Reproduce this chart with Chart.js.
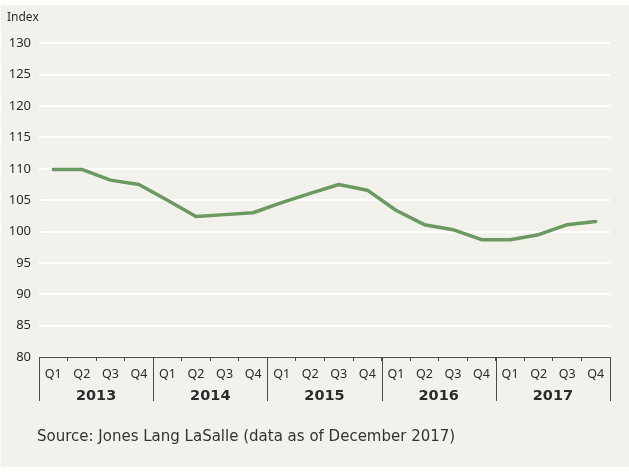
<!DOCTYPE html>
<html>
<head>
<meta charset="utf-8">
<script src="https://cdn.jsdelivr.net/npm/chart.js@4"></script>
<style>
  html, body { margin: 0; padding: 0; background: #ffffff; }
  #wrap { width: 629px; height: 472px; }
</style>
</head>
<body>
<div id="wrap"><canvas id="myChart" width="629" height="472"></canvas></div>
<script>
  // quarterly index values, 2013 Q1 .. 2017 Q4
  const quarters = ["Q1", "Q2", "Q3", "Q4"];
  const years = ["2013", "2014", "2015", "2016", "2017"];
  const indexValues = [
    109.9, 109.9, 108.2, 107.5,
    105.0, 102.4, 102.7, 103.0,
    104.6, 106.1, 107.5, 106.6,
    103.4, 101.1, 100.3, 98.7,
    98.7, 99.5, 101.1, 101.6,
  ];
  const yMin = 80;
  const yMax = 130;
  const yStep = 5;
  const sourceText = "Source: Jones Lang LaSalle (data as of December 2017)";

  const labels = [];
  years.forEach((yr) => quarters.forEach((q) => labels.push(q)));

  const fontFamily = "'Noto Sans', sans-serif";
  const wideFont = "'DejaVu Sans', sans-serif";
  const textColor = "#2b2b2b";

  const yearAxis = {
    id: "yearAxis",
    beforeDraw(chart) {
      const ctx = chart.ctx;
      ctx.save();
      ctx.fillStyle = "#f2f1ec";
      ctx.fillRect(1, 5, 628, 462);
      ctx.restore();
    },
    afterDraw(chart) {
      const ctx = chart.ctx;
      const xs = chart.scales.x;
      const top = chart.chartArea.bottom;
      const n = quarters.length;
      ctx.save();
      ctx.strokeStyle = "#4a4a4a";
      ctx.lineWidth = 1;
      // separators at the year boundaries
      const bounds = [xs.left];
      for (let i = 1; i < years.length; i++) {
        const a = xs.getPixelForValue(i * n - 1);
        const b = xs.getPixelForValue(i * n);
        bounds.push((a + b) / 2);
      }
      bounds.push(xs.right);
      bounds.forEach((bx) => {
        const px = Math.round(bx) + 0.5;
        ctx.beginPath();
        ctx.moveTo(px, top);
        ctx.lineTo(px, top + 44);
        ctx.stroke();
      });
      // year labels
      ctx.fillStyle = textColor;
      ctx.font = "bold 14.5px " + wideFont;
      ctx.textAlign = "center";
      ctx.textBaseline = "middle";
      years.forEach((yr, i) => {
        ctx.fillText(yr, (bounds[i] + bounds[i + 1]) / 2, top + 39);
      });
      // source line
      ctx.font = "15px " + wideFont;
      ctx.textAlign = "left";
      ctx.fillStyle = "#333333";
      ctx.fillText(sourceText, 37, 437);
      ctx.restore();
    },
  };

  const ctx = document.getElementById("myChart").getContext("2d");
  new Chart(ctx, {
    type: "line",
    data: {
      labels: labels,
      datasets: [
        {
          label: "Index",
          data: indexValues,
          borderColor: "#6b9a60",
          backgroundColor: "#6b9a60",
          borderWidth: 3.5,
          pointRadius: 0,
          tension: 0,
          borderCapStyle: "round",
          borderJoinStyle: "round",
        },
      ],
    },
    options: {
      responsive: false,
      animation: false,
      layout: {
        padding: { left: 7, right: 19, top: 0, bottom: 72 },
      },
      plugins: {
        legend: { display: false },
        tooltip: { enabled: false },
        title: {
          display: true,
          text: "Index",
          align: "start",
          color: textColor,
          font: { family: fontFamily, size: 12, weight: "normal" },
          padding: { top: 10, bottom: 19 },
        },
      },
      scales: {
        x: {
          type: "category",
          offset: true,
          border: { display: true, color: "#4a4a4a", width: 1 },
          grid: {
            offset: true,
            drawOnChartArea: false,
            drawTicks: true,
            tickLength: 4,
            color: "#4a4a4a",
          },
          ticks: {
            color: textColor,
            font: { family: fontFamily, size: 12.5 },
            padding: 6,
            maxRotation: 0,
            autoSkip: false,
          },
          afterFit(scale) {
            scale.height = 43;
          },
        },
        y: {
          min: yMin,
          max: yMax,
          border: { display: false },
          grid: {
            color: "#ffffff",
            lineWidth: 2,
            drawTicks: false,
          },
          ticks: {
            stepSize: yStep,
            color: textColor,
            font: { family: fontFamily, size: 13 },
            padding: 8,
          },
          afterFit(scale) {
            scale.width = 32;
          },
        },
      },
    },
    plugins: [yearAxis],
  });
</script>
</body>
</html>
